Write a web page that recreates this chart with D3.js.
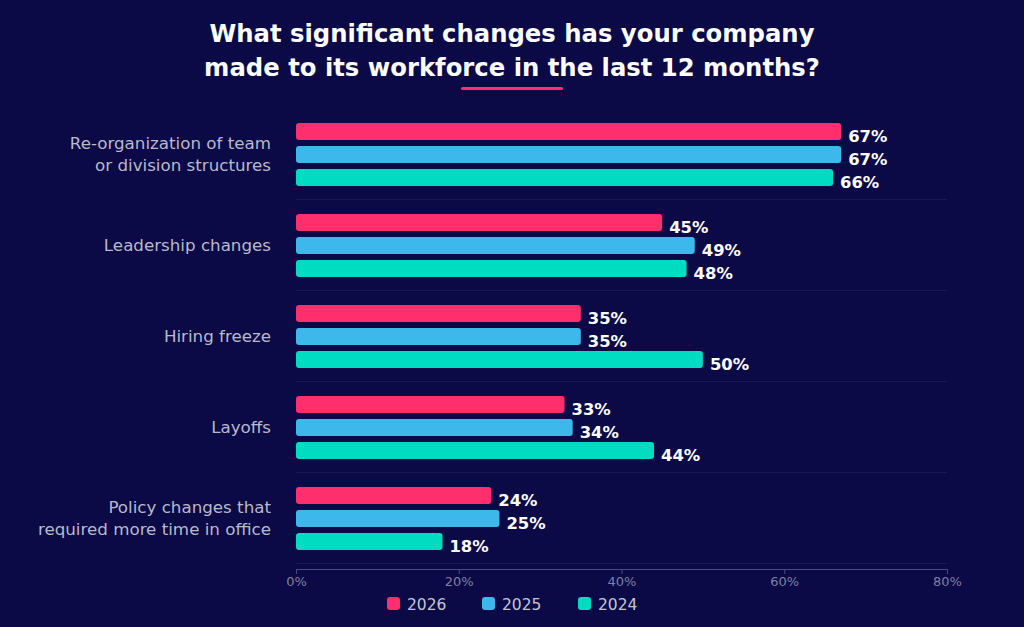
<!DOCTYPE html>
<html lang="en">
<head>
  <meta charset="UTF-8" />
  <title>Workforce changes</title>
  <script src="https://d3js.org/d3.v7.min.js"></script>
  <style>
    html, body {
      margin: 0;
      padding: 0;
      background: #0b0a46;
      font-family: "DejaVu Sans", sans-serif;
    }
    svg { display: block; }
  </style>
</head>
<body>
  <svg width="1024" height="627"></svg>

  <script>
    const categories = [
      ["Re-organization of team", "or division structures"],
      ["Leadership changes"],
      ["Hiring freeze"],
      ["Layoffs"],
      ["Policy changes that", "required more time in office"]
    ];
    const seriesNames = ["2026", "2025", "2024"];
    const values2026 = [67, 45, 35, 33, 24];
    const values2025 = [67, 49, 35, 34, 25];
    const values2024 = [66, 48, 50, 44, 18];
    const tickValues = [0, 20, 40, 60, 80];
    const colors = ["#ff2f6e", "#3db8ea", "#00dcc2"];

    const seriesValues = [values2026, values2025, values2024];

    const svg = d3.select("svg");
    const width = 1024;

    // title
    const title = svg.append("text")
      .attr("text-anchor", "middle")
      .attr("fill", "#ffffff")
      .attr("font-size", 24.3)
      .attr("font-weight", "bold");
    title.append("tspan").attr("x", width / 2).attr("y", 42)
      .text("What significant changes has your company");
    title.append("tspan").attr("x", width / 2).attr("y", 76)
      .text("made to its workforce in the last 12 months?");

    svg.append("rect")
      .attr("x", 461).attr("y", 87)
      .attr("width", 102).attr("height", 3)
      .attr("rx", 1.5)
      .attr("fill", "#ff2f6e");

    const x = d3.scaleLinear().domain([0, 80]).range([296, 947]);

    const y = d3.scaleBand()
      .domain(d3.range(categories.length))
      .range([108, 563]);

    const inner = d3.scaleBand()
      .domain(d3.range(seriesNames.length))
      .range([15, 78])
      .paddingInner(0.26);

    // separators
    svg.append("g").selectAll("line")
      .data(d3.range(categories.length))
      .enter().append("line")
      .attr("x1", 296).attr("x2", 947)
      .attr("y1", d => y(d) + y.bandwidth() + 0.5)
      .attr("y2", d => y(d) + y.bandwidth() + 0.5)
      .attr("stroke", "#1a1955")
      .attr("stroke-width", 1);

    // category labels
    const catG = svg.append("g");
    categories.forEach((lines, i) => {
      const cy = y(i) + y.bandwidth() / 2;
      const t = catG.append("text")
        .attr("text-anchor", "end")
        .attr("fill", "#b9b9cc")
        .attr("font-size", 16.7);
      const lh = 22;
      const start = cy - (lines.length - 1) * lh / 2 + 6;
      lines.forEach((l, j) => {
        t.append("tspan").attr("x", 271).attr("y", start + j * lh).text(l);
      });
    });

    // bars
    seriesValues.forEach((vals, s) => {
      const g = svg.append("g");
      g.selectAll("rect")
        .data(vals)
        .enter().append("rect")
        .attr("x", x(0))
        .attr("y", (d, i) => y(i) + inner(s))
        .attr("width", d => x(d) - x(0))
        .attr("height", inner.bandwidth())
        .attr("rx", 3)
        .attr("fill", colors[s]);

      g.selectAll("text")
        .data(vals)
        .enter().append("text")
        .attr("x", d => x(d) + 7)
        .attr("y", (d, i) => y(i) + inner(s) + inner.bandwidth() + 1.5)
        .attr("fill", "#ffffff")
        .attr("font-size", 16.4)
        .attr("font-weight", "bold")
        .text(d => d + "%");
    });

    // x axis
    const axis = svg.append("g")
      .attr("transform", "translate(0,569)")
      .call(d3.axisBottom(x).tickValues(tickValues).tickSize(5).tickFormat(d => d + "%"));
    axis.select(".domain").attr("stroke", "#4b4a80").attr("d", "M296.5,5V0.5H947.5V5");
    axis.selectAll(".tick line").attr("stroke", "#4b4a80");
    axis.selectAll(".tick text")
      .attr("fill", "#7f7fa3")
      .attr("font-size", 13)
      .attr("font-family", "DejaVu Sans, sans-serif")
      .attr("y", 8);

    // legend
    const legendX = [387, 482, 578];
    const legend = svg.append("g");
    seriesNames.forEach((name, i) => {
      legend.append("rect")
        .attr("x", legendX[i]).attr("y", 597)
        .attr("width", 13).attr("height", 13)
        .attr("rx", 3)
        .attr("fill", colors[i]);
      legend.append("text")
        .attr("x", legendX[i] + 20).attr("y", 610)
        .attr("fill", "#c4c4d6")
        .attr("font-size", 15.5)
        .text(name);
    });
  </script>
</body>
</html>
